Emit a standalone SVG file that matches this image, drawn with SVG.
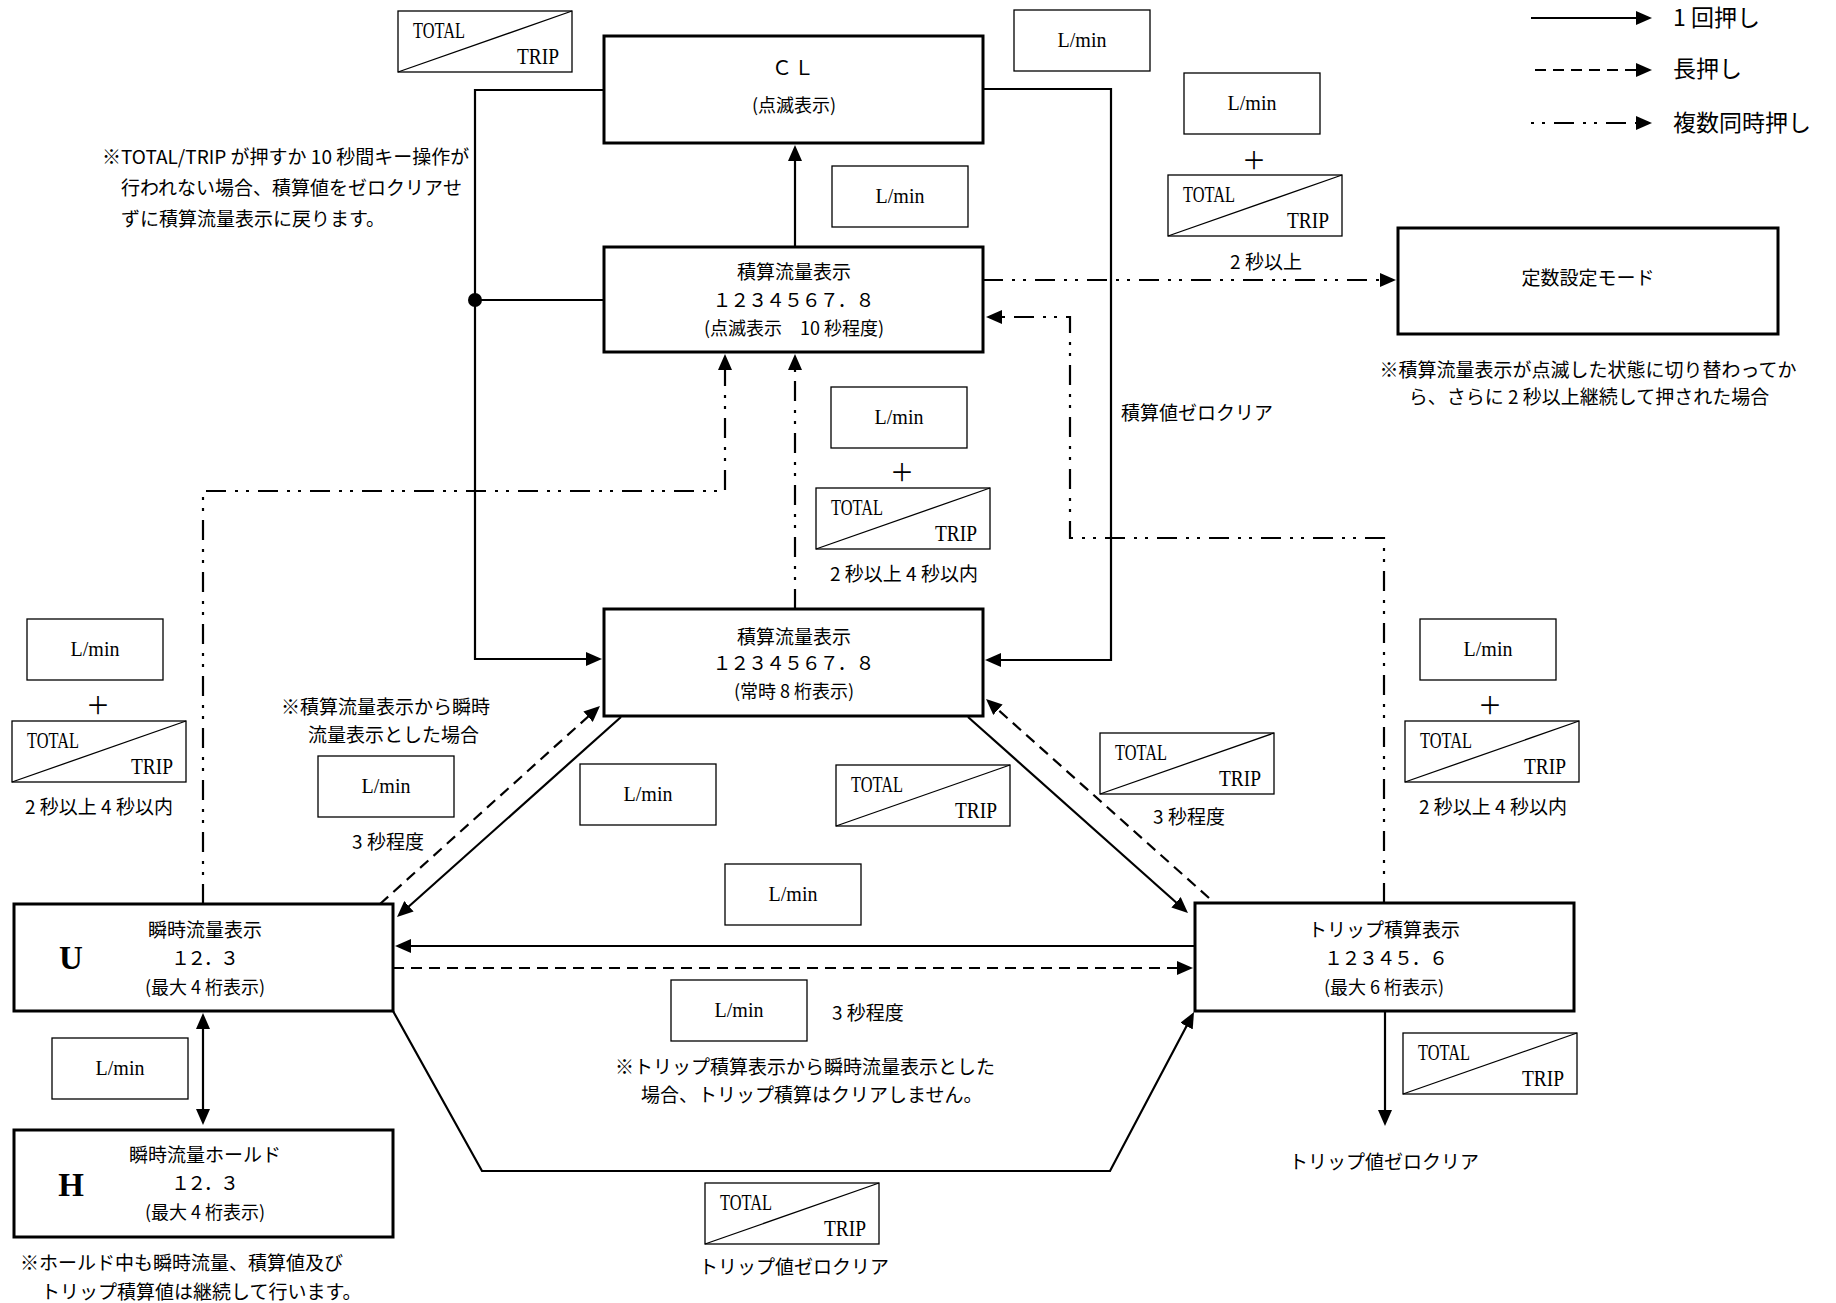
<svg xmlns="http://www.w3.org/2000/svg" width="1836" height="1303" viewBox="0 0 1836 1303">
<defs>
<style>
.nb{fill:#fff;stroke:#000;stroke-width:3}
.kb{fill:#fff;stroke:#000;stroke-width:1.3}
.kd{stroke:#000;stroke-width:1.3}
.lat{font-family:"Liberation Serif",serif;fill:#000}
.jp{font-family:"Noto Sans CJK JP","Noto Sans CJK SC",sans-serif;fill:#000}
.c{text-anchor:middle}
.t19{font-size:19px}
.t18{font-size:18px}
.dg{font-size:19px}
.conn{fill:none;stroke:#000;stroke-width:2.2}
.dash{stroke-dasharray:11 7}
.dd{stroke-dasharray:20 9 3 8 3 9}
.arr{marker-end:url(#ah)}
</style>
<marker id="ah" markerUnits="userSpaceOnUse" markerWidth="16" markerHeight="14" refX="10" refY="7" orient="auto-start-reverse" viewBox="0 0 16 14">
<path d="M0,0 L16,7 L0,14 z" fill="#000" stroke="none"/>
</marker>
</defs>
<rect width="1836" height="1303" fill="#fff"/>

<g id="connectors">
<path class="conn arr" d="M604,90 H475 V659 H596"/>
<path class="conn" d="M475,300 H604"/>
<circle cx="475" cy="300" r="7" fill="#000"/>
<path class="conn arr" d="M983,89 H1111 V660 H991"/>
<path class="conn arr" d="M795,247 V151"/>
<path class="conn dd arr" d="M983,280 H1390"/>
<path class="conn dd arr" d="M1384,903 V538 H1070 V317 H992"/>
<path class="conn dd arr" d="M203,904 V491 H725 V360"/>
<path class="conn dd arr" d="M795,609 V360"/>
<path class="conn arr" d="M621,717 L401.5,913"/>
<path class="conn dash arr" d="M380,904 L595.5,710"/>
<path class="conn arr" d="M968,717 L1183.5,909"/>
<path class="conn dash arr" d="M1209,898 L990.5,703"/>
<path class="conn arr" d="M1194,946 H401"/>
<path class="conn dash arr" d="M393,968 H1187"/>
<path class="conn arr" d="M393,1011 L482,1171 H1110 L1191.2,1017.3"/>
<path class="conn" d="M203,1019 V1119" marker-start="url(#ah)" marker-end="url(#ah)"/>
<path class="conn arr" d="M1385,1011 V1120"/>
</g>

<g id="legend">
<path class="conn arr" d="M1531,18 H1646"/>
<path class="conn dash arr" d="M1535,70 H1646"/>
<path class="conn dd arr" d="M1531,123 H1646" style="stroke-dashoffset:29"/>
<text class="jp" x="1673" y="26" font-size="23">1 回押し</text>
<text class="jp" x="1673" y="77" font-size="23">長押し</text>
<text class="jp" x="1673" y="131" font-size="23">複数同時押し</text>
</g>

<g id="node-cl">
<rect class="nb" x="604" y="36" width="379" height="107"/>
<text class="jp c" x="794" y="75" font-size="20" letter-spacing="2">ＣＬ</text>
<text class="jp c t18" x="794" y="111.6">(点滅表示)</text>
</g>

<g id="node-blink">
<rect class="nb" x="604" y="247" width="379" height="105"/>
<text class="jp c t19" x="794" y="278.7">積算流量表示</text>
<text class="jp dg" x="712.5" y="307" textLength="162">１２３４５６７．８</text>
<text class="jp c t18" x="794" y="334.6">(点滅表示　10 秒程度)</text>
</g>

<g id="node-total">
<rect class="nb" x="604" y="609" width="379" height="107"/>
<text class="jp c t19" x="794" y="643.7">積算流量表示</text>
<text class="jp dg" x="712.5" y="670" textLength="162">１２３４５６７．８</text>
<text class="jp c t18" x="794" y="698.3">(常時 8 桁表示)</text>
</g>

<g id="node-const">
<rect class="nb" x="1398" y="228" width="380" height="106"/>
<text class="jp c t19" x="1588" y="285">定数設定モード</text>
</g>

<g id="node-u">
<rect class="nb" x="14" y="904" width="379" height="107"/>
<text class="lat c" x="71" y="969" font-size="33" font-weight="bold">U</text>
<text class="jp c t19" x="205" y="937">瞬時流量表示</text>
<text class="jp dg" x="171" y="965" textLength="68">１２．３</text>
<text class="jp c t18" x="205" y="993.6">(最大 4 桁表示)</text>
</g>

<g id="node-h">
<rect class="nb" x="14" y="1130" width="379" height="107"/>
<text class="lat c" x="71" y="1196" font-size="33" font-weight="bold">H</text>
<text class="jp c t19" x="205" y="1162">瞬時流量ホールド</text>
<text class="jp dg" x="171" y="1190" textLength="68">１２．３</text>
<text class="jp c t18" x="205" y="1218.6">(最大 4 桁表示)</text>
</g>

<g id="node-trip">
<rect class="nb" x="1195" y="903" width="379" height="108"/>
<text class="jp c t19" x="1384" y="937">トリップ積算表示</text>
<text class="jp dg" x="1324" y="965" textLength="124">１２３４５．６</text>
<text class="jp c t18" x="1384" y="993.6">(最大 6 桁表示)</text>
</g>

<g id="keys-lmin">
<g id="lmin1"><rect class="kb" x="1014" y="10" width="136" height="61"/><text class="lat c" x="1082" y="47" font-size="20">L/min</text></g>
<g id="lmin2"><rect class="kb" x="1184" y="73" width="136" height="61"/><text class="lat c" x="1252" y="110" font-size="20">L/min</text></g>
<g id="lmin3"><rect class="kb" x="832" y="166" width="136" height="61"/><text class="lat c" x="900" y="203" font-size="20">L/min</text></g>
<g id="lmin4"><rect class="kb" x="831" y="387" width="136" height="61"/><text class="lat c" x="899" y="424" font-size="20">L/min</text></g>
<g id="lmin5"><rect class="kb" x="27" y="619" width="136" height="61"/><text class="lat c" x="95" y="656" font-size="20">L/min</text></g>
<g id="lmin6"><rect class="kb" x="1420" y="619" width="136" height="61"/><text class="lat c" x="1488" y="656" font-size="20">L/min</text></g>
<g id="lmin7"><rect class="kb" x="318" y="756" width="136" height="61"/><text class="lat c" x="386" y="793" font-size="20">L/min</text></g>
<g id="lmin8"><rect class="kb" x="580" y="764" width="136" height="61"/><text class="lat c" x="648" y="801" font-size="20">L/min</text></g>
<g id="lmin9"><rect class="kb" x="725" y="864" width="136" height="61"/><text class="lat c" x="793" y="901" font-size="20">L/min</text></g>
<g id="lmin10"><rect class="kb" x="671" y="980" width="136" height="61"/><text class="lat c" x="739" y="1017" font-size="20">L/min</text></g>
<g id="lmin11"><rect class="kb" x="52" y="1038" width="136" height="61"/><text class="lat c" x="120" y="1075" font-size="20">L/min</text></g>
</g>

<g id="keys-totaltrip">
<g id="tt1"><rect class="kb" x="398" y="11" width="174" height="61"/><line class="kd" x1="398" y1="72" x2="572" y2="11"/><text class="lat" x="413" y="38" font-size="23" textLength="52" lengthAdjust="spacingAndGlyphs">TOTAL</text><text class="lat" x="517" y="64" font-size="23" textLength="42" lengthAdjust="spacingAndGlyphs">TRIP</text></g>
<g id="tt2"><rect class="kb" x="1168" y="175" width="174" height="61"/><line class="kd" x1="1168" y1="236" x2="1342" y2="175"/><text class="lat" x="1183" y="202" font-size="23" textLength="52" lengthAdjust="spacingAndGlyphs">TOTAL</text><text class="lat" x="1287" y="228" font-size="23" textLength="42" lengthAdjust="spacingAndGlyphs">TRIP</text></g>
<g id="tt3"><rect class="kb" x="816" y="488" width="174" height="61"/><line class="kd" x1="816" y1="549" x2="990" y2="488"/><text class="lat" x="831" y="515" font-size="23" textLength="52" lengthAdjust="spacingAndGlyphs">TOTAL</text><text class="lat" x="935" y="541" font-size="23" textLength="42" lengthAdjust="spacingAndGlyphs">TRIP</text></g>
<g id="tt4"><rect class="kb" x="12" y="721" width="174" height="61"/><line class="kd" x1="12" y1="782" x2="186" y2="721"/><text class="lat" x="27" y="748" font-size="23" textLength="52" lengthAdjust="spacingAndGlyphs">TOTAL</text><text class="lat" x="131" y="774" font-size="23" textLength="42" lengthAdjust="spacingAndGlyphs">TRIP</text></g>
<g id="tt5"><rect class="kb" x="836" y="765" width="174" height="61"/><line class="kd" x1="836" y1="826" x2="1010" y2="765"/><text class="lat" x="851" y="792" font-size="23" textLength="52" lengthAdjust="spacingAndGlyphs">TOTAL</text><text class="lat" x="955" y="818" font-size="23" textLength="42" lengthAdjust="spacingAndGlyphs">TRIP</text></g>
<g id="tt6"><rect class="kb" x="1100" y="733" width="174" height="61"/><line class="kd" x1="1100" y1="794" x2="1274" y2="733"/><text class="lat" x="1115" y="760" font-size="23" textLength="52" lengthAdjust="spacingAndGlyphs">TOTAL</text><text class="lat" x="1219" y="786" font-size="23" textLength="42" lengthAdjust="spacingAndGlyphs">TRIP</text></g>
<g id="tt7"><rect class="kb" x="1405" y="721" width="174" height="61"/><line class="kd" x1="1405" y1="782" x2="1579" y2="721"/><text class="lat" x="1420" y="748" font-size="23" textLength="52" lengthAdjust="spacingAndGlyphs">TOTAL</text><text class="lat" x="1524" y="774" font-size="23" textLength="42" lengthAdjust="spacingAndGlyphs">TRIP</text></g>
<g id="tt8"><rect class="kb" x="1403" y="1033" width="174" height="61"/><line class="kd" x1="1403" y1="1094" x2="1577" y2="1033"/><text class="lat" x="1418" y="1060" font-size="23" textLength="52" lengthAdjust="spacingAndGlyphs">TOTAL</text><text class="lat" x="1522" y="1086" font-size="23" textLength="42" lengthAdjust="spacingAndGlyphs">TRIP</text></g>
<g id="tt9"><rect class="kb" x="705" y="1183" width="174" height="61"/><line class="kd" x1="705" y1="1244" x2="879" y2="1183"/><text class="lat" x="720" y="1210" font-size="23" textLength="52" lengthAdjust="spacingAndGlyphs">TOTAL</text><text class="lat" x="824" y="1236" font-size="23" textLength="42" lengthAdjust="spacingAndGlyphs">TRIP</text></g>
</g>

<g id="labels">
<text class="jp c" x="1254" y="169" font-size="24">＋</text>
<text class="jp c" x="902" y="481" font-size="24">＋</text>
<text class="jp c" x="98" y="714" font-size="24">＋</text>
<text class="jp c" x="1490" y="714" font-size="24">＋</text>
<text class="jp c t19" x="1266" y="269">2 秒以上</text>
<text class="jp c t19" x="904" y="581">2 秒以上 4 秒以内</text>
<text class="jp c t19" x="99" y="814">2 秒以上 4 秒以内</text>
<text class="jp c t19" x="1493" y="814">2 秒以上 4 秒以内</text>
<text class="jp c t19" x="388" y="849">3 秒程度</text>
<text class="jp c t19" x="1189" y="824">3 秒程度</text>
<text class="jp t19" x="832" y="1020">3 秒程度</text>
<text class="jp t19" x="1121" y="420">積算値ゼロクリア</text>
<text class="jp c t19" x="794" y="1274">トリップ値ゼロクリア</text>
<text class="jp c t19" x="1384" y="1169">トリップ値ゼロクリア</text>
</g>

<g id="notes">
<text class="jp t19" x="102" y="164">※TOTAL/TRIP が押すか 10 秒間キー操作が</text>
<text class="jp t19" x="121" y="195">行われない場合、積算値をゼロクリアせ</text>
<text class="jp t19" x="121" y="226">ずに積算流量表示に戻ります。</text>
<text class="jp c t19" x="1588" y="377">※積算流量表示が点滅した状態に切り替わってか</text>
<text class="jp c t19" x="1589" y="404">ら、さらに 2 秒以上継続して押された場合</text>
<text class="jp t19" x="281" y="714">※積算流量表示から瞬時</text>
<text class="jp t19" x="308" y="742">流量表示とした場合</text>
<text class="jp t19" x="615" y="1074">※トリップ積算表示から瞬時流量表示とした</text>
<text class="jp t19" x="641" y="1102">場合、トリップ積算はクリアしません。</text>
<text class="jp t19" x="20" y="1270">※ホールド中も瞬時流量、積算値及び</text>
<text class="jp t19" x="41" y="1299">トリップ積算値は継続して行います。</text>
</g>
</svg>
